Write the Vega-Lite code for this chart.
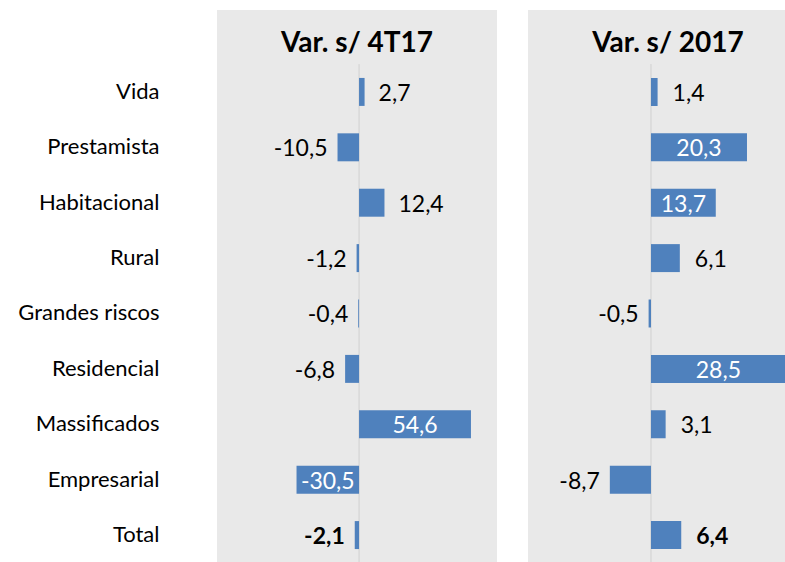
{
  "$schema": "https://vega.github.io/schema/vega-lite/v6.json",
  "padding": {"left": 0, "top": 10, "right": 0, "bottom": 0},
  "autosize": {"type": "pad"},
  "background": "white",
  "datasets": {
    "d": [
      {"cat": "Vida", "period": "4T17", "value": 2.7},
      {"cat": "Prestamista", "period": "4T17", "value": -10.5},
      {"cat": "Habitacional", "period": "4T17", "value": 12.4},
      {"cat": "Rural", "period": "4T17", "value": -1.2},
      {"cat": "Grandes riscos", "period": "4T17", "value": -0.4},
      {"cat": "Residencial", "period": "4T17", "value": -6.8},
      {"cat": "Massificados", "period": "4T17", "value": 54.6},
      {"cat": "Empresarial", "period": "4T17", "value": -30.5},
      {"cat": "Total", "period": "4T17", "value": -2.1},
      {"cat": "Vida", "period": "2017", "value": 1.4},
      {"cat": "Prestamista", "period": "2017", "value": 20.3},
      {"cat": "Habitacional", "period": "2017", "value": 13.7},
      {"cat": "Rural", "period": "2017", "value": 6.1},
      {"cat": "Grandes riscos", "period": "2017", "value": -0.5},
      {"cat": "Residencial", "period": "2017", "value": 28.5},
      {"cat": "Massificados", "period": "2017", "value": 3.1},
      {"cat": "Empresarial", "period": "2017", "value": -8.7},
      {"cat": "Total", "period": "2017", "value": 6.4}
    ],
    "zero": [{"z": 0, "top": 0.902, "bottom": 0}]
  },
  "config": {
    "view": {"fill": "#e9e9e9", "stroke": null},
    "font": "Lato"
  },
  "spacing": 31,
  "hconcat": [
    {
      "width": 280,
      "height": 552,
      "title": {"text": "Var. s/ 4T17", "fontSize": 28, "fontWeight": "bold", "font": "Lato", "color": "black", "offset": -48, "frame": "group"},
      "resolve": {"scale": {"y": "independent"}},
      "layer": [
        {
          "data": {"name": "zero"},
          "mark": {"type": "rule", "color": "#d0d0d0", "strokeWidth": 1},
          "encoding": {
            "x": {"field": "z", "type": "quantitative", "scale": {"domain": [-69.3, 67.3], "nice": false, "zero": false}, "axis": null},
            "y": {"field": "bottom", "type": "quantitative", "scale": {"domain": [0, 1], "nice": false}, "axis": null},
            "y2": {"field": "top"}
          }
        },
        {
          "data": {"name": "d"},
          "transform": [
            {"filter": "datum.period == '4T17'"},
            {"calculate": "datum.value/2", "as": "mid"},
            {"calculate": "replace(replace(format(datum.value, '.1f'), '.', ','), '\u2212', '-')", "as": "label"}
          ],
          "encoding": {
            "y": {
              "field": "cat", "type": "nominal", "sort": null,
              "scale": {"paddingInner": 0.495, "paddingOuter": 0.73, "align": 0.84},
              "axis": {"title": null, "domain": false, "ticks": false, "labelPadding": 58, "labelFontSize": 22, "labelFont": "Lato", "labelColor": "black", "minExtent": 217, "maxExtent": 217, "labelLimit": 300}
            }
          },
          "layer": [
            {
              "mark": {"type": "bar", "color": "#4f81bd"},
              "encoding": {
                "x": {"field": "value", "type": "quantitative", "scale": {"domain": [-69.3, 67.3], "nice": false, "zero": false}, "axis": null}
              }
            },
            {
              "transform": [{"filter": "datum.value >= 0 && datum.value < 22"}],
              "mark": {"type": "text", "align": "left", "dx": 14, "dy": 2, "fontSize": 23, "baseline": "middle", "color": "black", "fontWeight": {"expr": "datum.cat == 'Total' ? 'bold' : 'normal'"}},
              "encoding": {
                "x": {"field": "value", "type": "quantitative"},
                "text": {"field": "label", "type": "nominal"}
              }
            },
            {
              "transform": [{"filter": "datum.value < 0 && datum.value > -22"}],
              "mark": {"type": "text", "align": "right", "dx": -10, "dy": 2, "fontSize": 23, "baseline": "middle", "color": "black", "fontWeight": {"expr": "datum.cat == 'Total' ? 'bold' : 'normal'"}},
              "encoding": {
                "x": {"field": "value", "type": "quantitative"},
                "text": {"field": "label", "type": "nominal"}
              }
            },
            {
              "transform": [{"filter": "abs(datum.value) >= 22"}],
              "mark": {"type": "text", "align": "center", "dy": 2, "fontSize": 23, "baseline": "middle", "color": "white"},
              "encoding": {
                "x": {"field": "mid", "type": "quantitative"},
                "text": {"field": "label", "type": "nominal"}
              }
            }
          ]
        }
      ]
    },
    {
      "width": 280,
      "height": 552,
      "title": {"text": "Var. s/ 2017", "fontSize": 28, "fontWeight": "bold", "font": "Lato", "color": "black", "offset": -48, "frame": "group"},
      "resolve": {"scale": {"y": "independent"}},
      "layer": [
        {
          "data": {"name": "zero"},
          "mark": {"type": "rule", "color": "#d0d0d0", "strokeWidth": 1},
          "encoding": {
            "x": {"field": "z", "type": "quantitative", "scale": {"domain": [-26.0, 33.2], "nice": false, "zero": false}, "axis": null},
            "y": {"field": "bottom", "type": "quantitative", "scale": {"domain": [0, 1], "nice": false}, "axis": null},
            "y2": {"field": "top"}
          }
        },
        {
          "data": {"name": "d"},
          "transform": [
            {"filter": "datum.period == '2017'"},
            {"calculate": "datum.value/2", "as": "mid"},
            {"calculate": "replace(replace(format(datum.value, '.1f'), '.', ','), '\u2212', '-')", "as": "label"}
          ],
          "encoding": {
            "y": {
              "field": "cat", "type": "nominal", "sort": null,
              "scale": {"paddingInner": 0.495, "paddingOuter": 0.73, "align": 0.84},
              "axis": null
            }
          },
          "layer": [
            {
              "mark": {"type": "bar", "color": "#4f81bd"},
              "encoding": {
                "x": {"field": "value", "type": "quantitative", "scale": {"domain": [-26.0, 33.2], "nice": false, "zero": false}, "axis": null}
              }
            },
            {
              "transform": [{"filter": "datum.value >= 0 && datum.value < 9.5"}],
              "mark": {"type": "text", "align": "left", "dx": 15, "dy": 2, "fontSize": 23, "baseline": "middle", "color": "black", "fontWeight": {"expr": "datum.cat == 'Total' ? 'bold' : 'normal'"}},
              "encoding": {
                "x": {"field": "value", "type": "quantitative"},
                "text": {"field": "label", "type": "nominal"}
              }
            },
            {
              "transform": [{"filter": "datum.value < 0 && datum.value > -9.5"}],
              "mark": {"type": "text", "align": "right", "dx": -10, "dy": 2, "fontSize": 23, "baseline": "middle", "color": "black", "fontWeight": {"expr": "datum.cat == 'Total' ? 'bold' : 'normal'"}},
              "encoding": {
                "x": {"field": "value", "type": "quantitative"},
                "text": {"field": "label", "type": "nominal"}
              }
            },
            {
              "transform": [{"filter": "abs(datum.value) >= 9.5"}],
              "mark": {"type": "text", "align": "center", "dy": 2, "fontSize": 23, "baseline": "middle", "color": "white"},
              "encoding": {
                "x": {"field": "mid", "type": "quantitative"},
                "text": {"field": "label", "type": "nominal"}
              }
            }
          ]
        }
      ]
    }
  ]
}
